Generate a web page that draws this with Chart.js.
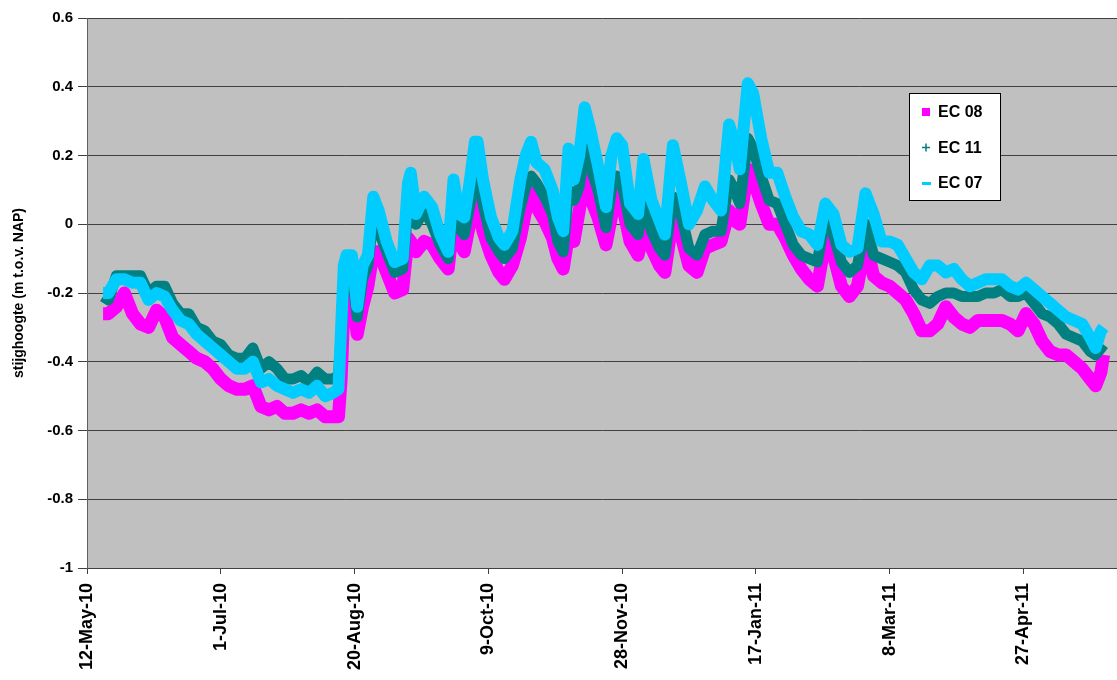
<!DOCTYPE html>
<html>
<head>
<meta charset="utf-8">
<script src="https://cdn.jsdelivr.net/npm/chart.js@4.4.1/dist/chart.umd.min.js"></script>
<style>
  body { margin: 0; background: #fff; }
</style>
</head>
<body>
<canvas id="stijghoogte" width="1117" height="680"></canvas>
<script>
// dates on the x axis, one label every 50 days from 12-May-10
const dayLabels = ['12-May-10', '1-Jul-10', '20-Aug-10', '9-Oct-10', '28-Nov-10', '17-Jan-11', '8-Mar-11', '27-Apr-11'];

// days since 12-May-10
const days = [6, 8, 11, 14, 17, 20, 23, 26, 29, 32, 35, 38, 41, 44, 47, 50, 53, 56, 59, 62,
  65, 68, 71, 74, 77, 80, 83, 86, 89, 92, 94, 95, 96, 97, 99, 101, 103, 105, 107, 109,
  112, 115, 118, 120, 121, 123, 126, 129, 132, 135, 137, 139, 141, 143, 145, 146, 148, 151, 154, 156,
  159, 162, 164, 166, 168, 171, 174, 176, 178, 180, 182, 184, 186, 188, 191, 194, 196, 198, 200, 203,
  206, 208, 211, 214, 216, 219, 222, 225, 228, 231, 234, 237, 240, 242, 244, 247, 249, 252, 255, 258,
  261, 264, 267, 270, 273, 276, 279, 282, 285, 288, 291, 294, 297, 300, 303, 306, 309, 312, 315, 318,
  321, 324, 327, 330, 333, 336, 339, 342, 345, 348, 351, 354, 357, 360, 363, 366, 369, 372, 375, 377,
  379, 380];

const ec08 = [-0.26, -0.26, -0.24, -0.20, -0.26, -0.29, -0.30, -0.25, -0.27, -0.33, -0.35, -0.37, -0.39, -0.40, -0.42, -0.45, -0.47, -0.48, -0.48, -0.47,
  -0.53, -0.54, -0.53, -0.55, -0.55, -0.54, -0.55, -0.54, -0.56, -0.56, -0.56, -0.45, -0.25, -0.20, -0.20, -0.32, -0.24, -0.18, -0.08, -0.08,
  -0.14, -0.20, -0.19, -0.04, -0.05, -0.08, -0.05, -0.06, -0.10, -0.13, 0.01, -0.05, -0.08, 0.00, 0.06, 0.05, -0.02, -0.09, -0.14, -0.16,
  -0.12, -0.04, 0.04, 0.09, 0.05, 0.01, -0.04, -0.10, -0.13, -0.03, -0.05, 0.04, 0.13, 0.08, 0.02, -0.06, 0.02, 0.10, 0.06, -0.05,
  -0.09, -0.02, -0.07, -0.12, -0.14, 0.02, -0.03, -0.12, -0.14, -0.07, -0.06, -0.05, 0.04, 0.01, 0.00, 0.16, 0.13, 0.06, 0.00, 0.00,
  -0.04, -0.09, -0.13, -0.16, -0.18, -0.05, -0.09, -0.18, -0.21, -0.18, -0.05, -0.15, -0.17, -0.18, -0.20, -0.22, -0.26, -0.31, -0.31, -0.29,
  -0.24, -0.27, -0.29, -0.30, -0.28, -0.28, -0.28, -0.28, -0.29, -0.31, -0.26, -0.29, -0.34, -0.37, -0.38, -0.38, -0.40, -0.42, -0.45, -0.47,
  -0.43, -0.38];

const ec11 = [-0.21, -0.22, -0.15, -0.15, -0.15, -0.15, -0.20, -0.18, -0.18, -0.23, -0.26, -0.26, -0.30, -0.31, -0.34, -0.35, -0.38, -0.39, -0.39, -0.36,
  -0.42, -0.40, -0.42, -0.45, -0.45, -0.44, -0.46, -0.43, -0.45, -0.45, -0.44, -0.33, -0.16, -0.12, -0.13, -0.27, -0.16, -0.12, 0.02, -0.02,
  -0.08, -0.14, -0.13, 0.05, 0.07, 0.00, 0.04, 0.00, -0.06, -0.10, 0.05, -0.01, -0.03, 0.05, 0.15, 0.14, 0.06, -0.04, -0.08, -0.10,
  -0.07, 0.05, 0.11, 0.14, 0.12, 0.08, 0.03, -0.05, -0.08, 0.10, 0.07, 0.11, 0.22, 0.17, 0.10, -0.01, 0.10, 0.14, 0.12, 0.00,
  -0.03, 0.07, -0.02, -0.07, -0.09, 0.08, 0.03, -0.07, -0.09, -0.03, -0.02, -0.02, 0.13, 0.10, 0.06, 0.25, 0.22, 0.14, 0.07, 0.06,
  0.00, -0.06, -0.09, -0.10, -0.11, 0.02, -0.03, -0.11, -0.14, -0.12, 0.00, -0.09, -0.10, -0.11, -0.12, -0.14, -0.19, -0.22, -0.23, -0.21,
  -0.20, -0.20, -0.21, -0.21, -0.21, -0.20, -0.20, -0.19, -0.21, -0.21, -0.20, -0.23, -0.26, -0.27, -0.29, -0.32, -0.33, -0.34, -0.37, -0.38,
  -0.36, -0.35];

const ec07 = [-0.20, -0.20, -0.16, -0.16, -0.17, -0.17, -0.22, -0.20, -0.21, -0.25, -0.28, -0.29, -0.32, -0.34, -0.36, -0.38, -0.40, -0.42, -0.42, -0.40,
  -0.46, -0.45, -0.47, -0.48, -0.49, -0.48, -0.49, -0.47, -0.50, -0.49, -0.48, -0.30, -0.12, -0.09, -0.09, -0.24, -0.12, -0.09, 0.08, 0.04,
  -0.05, -0.11, -0.10, 0.12, 0.15, 0.03, 0.08, 0.05, -0.03, -0.08, 0.13, 0.03, 0.02, 0.12, 0.24, 0.24, 0.13, 0.02, -0.04, -0.06,
  -0.02, 0.13, 0.20, 0.24, 0.18, 0.16, 0.10, 0.02, -0.02, 0.22, 0.13, 0.20, 0.34, 0.28, 0.17, 0.05, 0.20, 0.25, 0.23, 0.06,
  0.03, 0.19, 0.07, 0.01, -0.03, 0.23, 0.12, 0.00, 0.04, 0.11, 0.07, 0.04, 0.29, 0.24, 0.16, 0.41, 0.38, 0.25, 0.15, 0.15,
  0.08, 0.02, -0.02, -0.03, -0.06, 0.06, 0.03, -0.06, -0.08, -0.07, 0.09, 0.03, -0.05, -0.05, -0.06, -0.10, -0.14, -0.16, -0.12, -0.12,
  -0.14, -0.13, -0.16, -0.18, -0.17, -0.16, -0.16, -0.16, -0.18, -0.19, -0.17, -0.19, -0.21, -0.23, -0.25, -0.27, -0.28, -0.29, -0.33, -0.36,
  -0.31, -0.30];

const seriesNames = ['EC 08', 'EC 11', 'EC 07'];
const seriesColors = ['#FF00FF', '#008080', '#00CCFF'];
const seriesMarkers = ['rect', 'cross', 'line'];

const font = "Arial, 'Liberation Sans', sans-serif";

function toPoints(values) {
  return values.map((v, i) => ({ x: days[i], y: v }));
}

const plotBackground = {
  id: 'plotBackground',
  beforeDraw(chart) {
    const a = chart.chartArea;
    const ctx = chart.ctx;
    ctx.save();
    ctx.fillStyle = '#C0C0C0';
    ctx.fillRect(a.left, a.top, a.right - a.left, a.bottom - a.top);
    ctx.restore();
  }
};

// Excel style legend box sitting inside the plot
const legendBox = {
  id: 'legendBox',
  afterDraw(chart) {
    const ctx = chart.ctx;
    ctx.save();
    ctx.fillStyle = '#fff';
    ctx.strokeStyle = '#000';
    ctx.lineWidth = 1;
    ctx.fillRect(909.5, 93.5, 91, 107);
    ctx.strokeRect(909.5, 93.5, 91, 107);
    ctx.font = 'bold 16px ' + font;
    ctx.textBaseline = 'middle';
    chart.data.datasets.forEach((ds, i) => {
      const y = 112 + i * 35.5;
      const mx = 926;
      ctx.fillStyle = ds.borderColor;
      ctx.strokeStyle = ds.borderColor;
      if (ds.pointStyle === 'rect') {
        ctx.fillRect(mx - 4, y - 4, 8, 8);
      } else if (ds.pointStyle === 'cross') {
        ctx.lineWidth = 1.5;
        ctx.beginPath();
        ctx.moveTo(mx - 4, y); ctx.lineTo(mx + 4, y);
        ctx.moveTo(mx, y - 4); ctx.lineTo(mx, y + 4);
        ctx.stroke();
      } else {
        ctx.fillRect(mx - 4, y - 1, 9, 3);
      }
      ctx.fillStyle = '#000';
      ctx.fillText(ds.label, 938, y + 1);
    });
    ctx.restore();
  }
};

const ctx = document.getElementById('stijghoogte').getContext('2d');
const chart = new Chart(ctx, {
  type: 'line',
  data: {
    datasets: seriesNames.map((name, i) => ({
      label: name,
      data: toPoints([ec08, ec11, ec07][i]),
      borderColor: seriesColors[i],
      backgroundColor: seriesColors[i],
      pointStyle: seriesMarkers[i],
      borderWidth: [13, 11, 12][i],
      borderJoinStyle: 'round',
      pointRadius: 0,
      tension: 0,
      order: 3 - i
    }))
  },
  options: {
    responsive: false,
    animation: false,
    layout: { padding: { top: 18, right: 0, left: 0, bottom: 0 } },
    plugins: {
      legend: { display: false },
      tooltip: { enabled: false }
    },
    scales: {
      x: {
        type: 'linear',
        min: 0,
        max: 385,
        afterFit: s => { s.height = 112; },
        afterBuildTicks: s => { s.ticks = s.ticks.filter(t => t.value % 50 === 0); },
        ticks: {
          stepSize: 50,
          minRotation: 90,
          maxRotation: 90,
          padding: 9,
          color: '#000',
          font: { family: font, size: 18, weight: 'bold' },
          callback: v => dayLabels[v / 50]
        },
        grid: { drawOnChartArea: false, drawTicks: true, tickLength: 6, color: '#404040' },
        border: { color: '#404040' }
      },
      y: {
        min: -1,
        max: 0.6,
        afterFit: s => { s.width = 87; },
        ticks: {
          stepSize: 0.2,
          padding: 5,
          color: '#000',
          font: { family: font, size: 15, weight: 'bold' },
          callback: v => String(Math.round(v * 10) / 10)
        },
        grid: { color: '#404040', lineWidth: 1, tickLength: 9 },
        border: { color: '#606060' },
        title: {
          display: true,
          text: 'stijghoogte (m t.o.v. NAP)',
          color: '#000',
          font: { family: font, size: 14, weight: 'bold' },
          padding: { top: 11, bottom: 0 }
        }
      }
    }
  },
  plugins: [plotBackground, legendBox]
});
</script>
</body>
</html>
